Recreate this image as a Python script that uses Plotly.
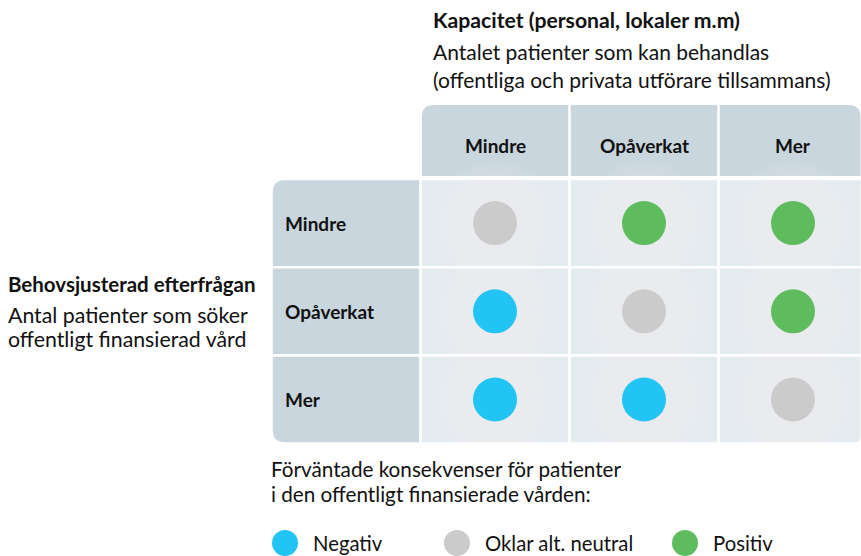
import plotly.graph_objects as go

# ---------------- data ----------------
capacity_levels = ["Mindre", "Opåverkat", "Mer"]      # columns (Kapacitet)
demand_levels = ["Mindre", "Opåverkat", "Mer"]        # rows (Efterfrågan)
outcome_matrix = [                                     # rows x columns
    ["Oklar", "Positiv", "Positiv"],
    ["Negativ", "Oklar", "Positiv"],
    ["Negativ", "Negativ", "Oklar"],
]
outcome_keys = ["Negativ", "Oklar", "Positiv"]
outcome_labels = ["Negativ", "Oklar alt. neutral", "Positiv"]
outcome_colors = ["#21c4f3", "#cbcbcb", "#5ebc5f"]

col_title = "Kapacitet (personal, lokaler m.m)"
col_subtitle = ["Antalet patienter som kan behandlas",
                "(offentliga och privata utförare tillsammans)"]
row_title = "Behovsjusterad efterfrågan"
row_subtitle = ["Antal patienter som söker", "offentligt finansierad vård"]
legend_title = ["Förväntade konsekvenser för patienter",
                "i den offentligt finansierade vården:"]

# ---------------- layout constants ----------------
W, H = 861, 556
FONT = "Lato"
COL0_PX, COL_PITCH = 495.0, 149.0     # pixel centre of first column, column pitch
ROW0_PX, ROW_PITCH = 223.1, 88.2      # pixel centre of first row, row pitch
GAP = 2.6                              # white gap between cells (px)
HEADER_BAND = (105, 176)               # header row band (px, top/bottom)
R_BIG, R_SMALL = 12, 6                 # corner radii (px)
HEADER_FILL = "#c9d6de"
CELL_FILL = "#e4ebef"
TEXT = "#111111"


def X(px):
    return (px - COL0_PX) / COL_PITCH


def Y(py):
    return (py - ROW0_PX) / ROW_PITCH


x_range = [X(0), X(W)]
y_range = [Y(H), Y(0)]   # reversed: first row on top
gx = GAP / 2 / COL_PITCH
gy = GAP / 2 / ROW_PITCH
x_right = X(W - 0.5)


def rrect(x0, y0, x1, y1, tl=0, tr=0, br=0, bl=0):
    """rounded rectangle path in data units; radii given in px"""
    def rx(r):
        return r / COL_PITCH

    def ry(r):
        return r / ROW_PITCH
    p = f"M {x0 + rx(tl)},{y0} L {x1 - rx(tr)},{y0} "
    p += f"Q {x1},{y0} {x1},{y0 + ry(tr)} " if tr else ""
    p += f"L {x1},{y1 - ry(br)} "
    p += f"Q {x1},{y1} {x1 - rx(br)},{y1} " if br else ""
    p += f"L {x0 + rx(bl)},{y1} "
    p += f"Q {x0},{y1} {x0},{y1 - ry(bl)} " if bl else ""
    p += f"L {x0},{y0 + ry(tl)} "
    p += f"Q {x0},{y0} {x0 + rx(tl)},{y0} " if tl else ""
    return p + "Z"


shapes = []
nC, nR = len(capacity_levels), len(demand_levels)

# header cells (one per capacity level)
for c in range(nC):
    x0 = c - 0.5 + gx
    x1 = x_right if c == nC - 1 else c + 0.5 - gx
    shapes.append(dict(type="path", xref="x", yref="y",
                       path=rrect(x0, Y(HEADER_BAND[0]), x1, Y(HEADER_BAND[1]),
                                  tl=R_BIG if c == 0 else 0,
                                  tr=R_BIG if c == nC - 1 else 0),
                       fillcolor=HEADER_FILL, line=dict(width=0), layer="below"))

# row label cells (one per demand level), placed one column pitch left of the grid
for r in range(nR):
    y0 = r - 0.5 + gy
    y1 = r + 0.5 - gy
    shapes.append(dict(type="path", xref="x", yref="y",
                       path=rrect(-1.5 + gx, y0, -0.5 - gx, y1,
                                  tl=R_BIG if r == 0 else 0,
                                  bl=R_BIG if r == nR - 1 else 0),
                       fillcolor=HEADER_FILL, line=dict(width=0), layer="below"))

# grid cells
for r in range(nR):
    for c in range(nC):
        x0 = c - 0.5 + gx
        x1 = x_right if c == nC - 1 else c + 0.5 - gx
        y0 = r - 0.5 + gy
        y1 = r + 0.5 - gy
        shapes.append(dict(type="path", xref="x", yref="y",
                           path=rrect(x0, y0, x1, y1,
                                      br=R_SMALL if (r == nR - 1 and c == nC - 1) else 0),
                           fillcolor=CELL_FILL, line=dict(width=0), layer="below"))

fig = go.Figure()

# soft halo around every dot (light radial glow)
all_x = [c for r in range(nR) for c in range(nC)]
all_y = [r for r in range(nR) for c in range(nC)]
for size in range(130, 46, -8):
    fig.add_trace(go.Scatter(x=all_x, y=all_y, mode="markers",
                             marker=dict(size=size, color="white", opacity=0.045,
                                         line=dict(width=0)),
                             hoverinfo="skip", showlegend=False))

# the outcome dots
for key, label, color in zip(outcome_keys, outcome_labels, outcome_colors):
    xs, ys = [], []
    for r, row in enumerate(outcome_matrix):
        for c, val in enumerate(row):
            if val == key:
                xs.append(c)
                ys.append(r)
    fig.add_trace(go.Scatter(x=xs, y=ys, mode="markers", name=label,
                             marker=dict(size=44, color=color, line=dict(width=0)),
                             hovertemplate=label + "<extra></extra>",
                             showlegend=False))

# manual legend
LEGEND_Y = 543
LEGEND_X = [285, 457, 685]
for lx, label, color in zip(LEGEND_X, outcome_labels, outcome_colors):
    fig.add_trace(go.Scatter(x=[X(lx)], y=[Y(LEGEND_Y)], mode="markers",
                             marker=dict(size=26, color=color, line=dict(width=0)),
                             hoverinfo="skip", showlegend=False))

annotations = []


def txt(text, px, py, size, bold=False, xanchor="left"):
    annotations.append(dict(
        text=f"<b>{text}</b>" if bold else text,
        x=px / W, y=1 - py / H, xref="paper", yref="paper",
        xanchor=xanchor, yanchor="middle", showarrow=False,
        font=dict(family=FONT, size=size, color=TEXT)))


LABEL_SIZE = 19
# column header labels
for c, lab in enumerate(capacity_levels):
    annotations.append(dict(text=f"<b>{lab}</b>", x=c, y=Y(145), xref="x", yref="y",
                            xanchor="center", yanchor="middle", showarrow=False,
                            font=dict(family=FONT, size=LABEL_SIZE, color=TEXT)))
# row labels
for r, lab in enumerate(demand_levels):
    annotations.append(dict(text=f"<b>{lab}</b>", x=X(283), y=r, xref="x", yref="y",
                            xanchor="left", yanchor="middle", showarrow=False,
                            font=dict(family=FONT, size=LABEL_SIZE, color=TEXT)))

txt(col_title, 431, 20, 21.2, bold=True)
txt(col_subtitle[0], 431, 52, 21)
txt(col_subtitle[1], 431, 79, 21)
txt(row_title, 6, 284, 20.5, bold=True)
txt(row_subtitle[0], 6, 315, 21.3)
txt(row_subtitle[1], 6, 339, 21.3)
txt(legend_title[0], 269, 469, 20.7)
txt(legend_title[1], 269, 494, 20.7)
for lx, label in zip(LEGEND_X, outcome_labels):
    txt(label, lx + 26, LEGEND_Y, 20.3)

fig.update_layout(
    width=W, height=H, autosize=False,
    margin=dict(l=0, r=0, t=0, b=0, pad=0),
    paper_bgcolor="white", plot_bgcolor="white",
    xaxis=dict(range=x_range, visible=False, fixedrange=True),
    yaxis=dict(range=y_range, visible=False, fixedrange=True),
    shapes=shapes, annotations=annotations,
    showlegend=False, hovermode="closest",
)

fig.write_html("out.html", config={"displayModeBar": False},
               post_script="document.body.style.margin='0px';")
